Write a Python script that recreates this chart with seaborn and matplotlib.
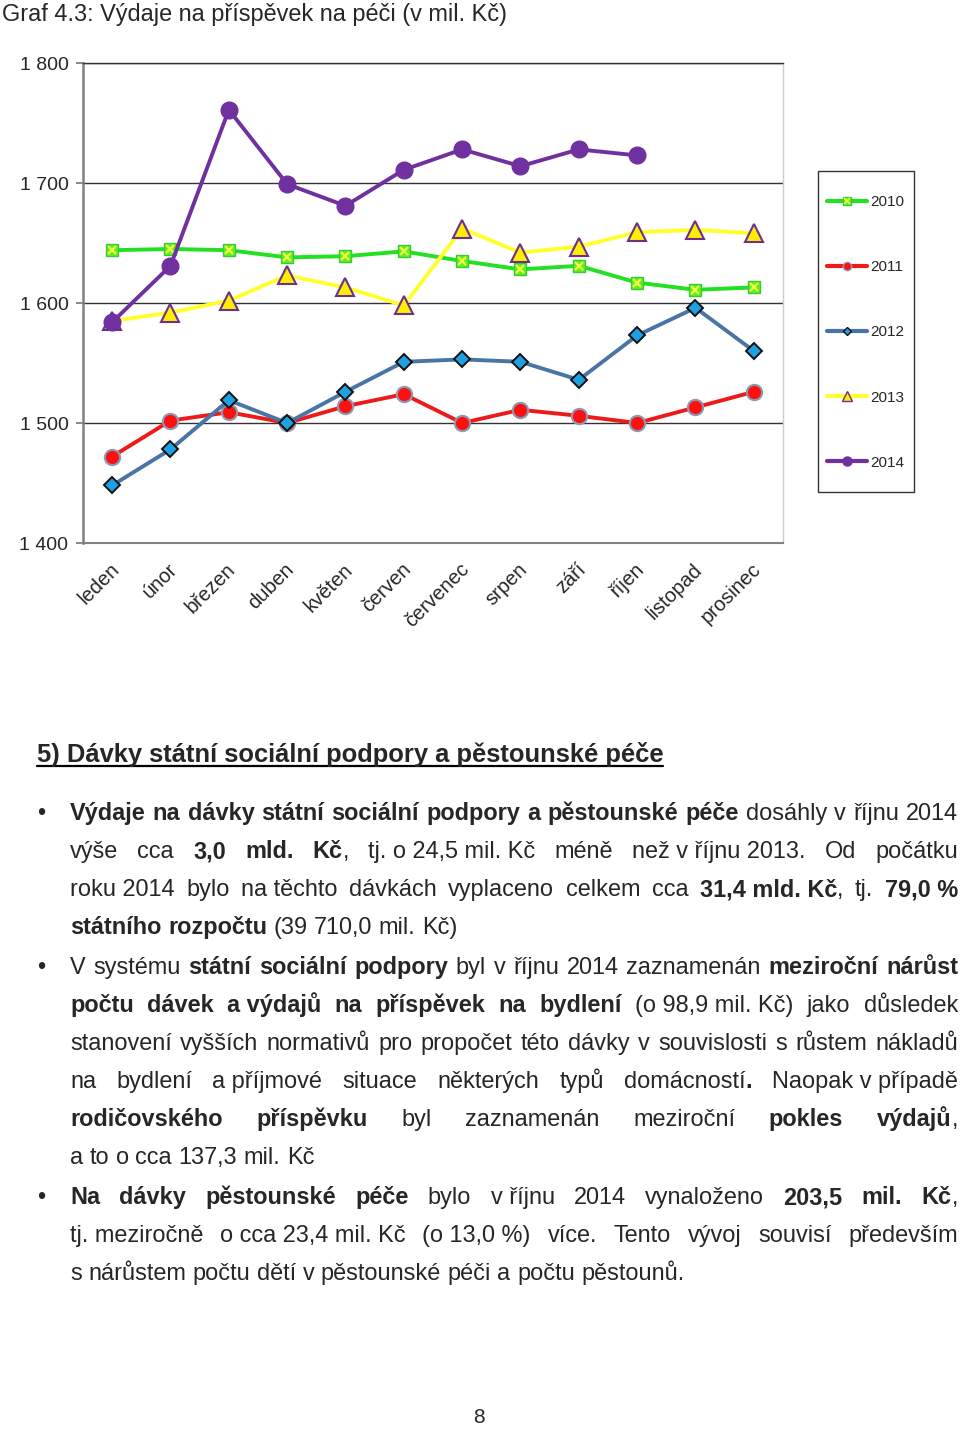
import numpy as np
import pandas as pd
import matplotlib
matplotlib.use("Agg")
import matplotlib.pyplot as plt
import seaborn as sns
from matplotlib.lines import Line2D
from matplotlib.patches import Rectangle
from matplotlib.ticker import FuncFormatter
from matplotlib.transforms import ScaledTranslation

# ---------------- data ----------------
months = ["leden", "únor", "březen", "duben", "květen", "červen",
          "červenec", "srpen", "září", "říjen", "listopad", "prosinec"]
years = ["2010", "2011", "2012", "2013", "2014"]
v2010 = [1644, 1645, 1644, 1638, 1639, 1643, 1635, 1628, 1631, 1617, 1611, 1613]
v2011 = [1472, 1502, 1509, 1500, 1514, 1524, 1500, 1511, 1506, 1500, 1513, 1526]
v2012 = [1448, 1478, 1519, 1500, 1526, 1551, 1553, 1551, 1536, 1573, 1596, 1560]
v2013 = [1585, 1592, 1602, 1623, 1613, 1598, 1662, 1642, 1647, 1659, 1661, 1658]
v2014 = [1584, 1631, 1761, 1699, 1681, 1711, 1728, 1714, 1728, 1723]
y_ticks = [1400, 1500, 1600, 1700, 1800]

title = "Graf 4.3: Výdaje na příspěvek na péči (v mil. Kč)"
heading = "5) Dávky státní sociální podpory a pěstounské péče"
NB = "\u00a0"
body_lines = [
    "*Výdaje na dávky státní sociální podpory a pěstounské péče* dosáhly v říjnu 2014",
    "výše cca *3,0 mld. Kč*, tj." + NB + "o" + NB + "24,5" + NB + "mil." + NB + "Kč méně než" + NB + "v" + NB + "říjnu" + NB + "2013. Od počátku",
    "roku" + NB + "2014 bylo na" + NB + "těchto dávkách vyplaceno celkem cca *31,4" + NB + "mld." + NB + "Kč*, tj. *79,0" + NB + "%*",
    "*státního rozpočtu* (39 710,0 mil. Kč)",
    "V systému *státní sociální podpory* byl v říjnu 2014 zaznamenán *meziroční nárůst*",
    "*počtu dávek a" + NB + "výdajů na příspěvek na bydlení* (o" + NB + "98,9" + NB + "mil." + NB + "Kč) jako důsledek",
    "stanovení vyšších normativů pro propočet této dávky v souvislosti s růstem nákladů",
    "na bydlení a" + NB + "příjmové situace některých typů domácností*.* Naopak" + NB + "v" + NB + "případě",
    "*rodičovského příspěvku* byl zaznamenán meziroční *pokles výdajů*,",
    "a to o cca 137,3 mil. Kč",
    "*Na dávky pěstounské péče* bylo v" + NB + "říjnu 2014 vynaloženo *203,5 mil. Kč*,",
    "tj." + NB + "meziročně o" + NB + "cca" + NB + "23,4" + NB + "mil." + NB + "Kč (o" + NB + "13,0" + NB + "%) více. Tento vývoj souvisí především",
    "s nárůstem počtu dětí v pěstounské péči a počtu pěstounů.",
]
justify = [True, True, True, False, True, True, True, True, True, False, True, True, False]
bullets = [True, False, False, False, True, False, False, False, False, False, True, False, False]
page_number = "8"

# ---------------- layout ----------------
W, H = 960, 1429
sns.set_style("white")
plt.rcParams["font.family"] = ["Liberation Sans", "DejaVu Sans"]
BODY = ["Liberation Sans", "DejaVu Sans"]

fig = plt.figure(figsize=(W / 100, H / 100), dpi=100)
ax = fig.add_axes([83 / W, 1 - 543 / H, 700 / W, 480 / H])

green, red, blue, yellow, purple = "#22e022", "#ee1a1a", "#4a74a5", "#ffff2e", "#7030a0"

frames = []
for yr, vals in zip(years, [v2010, v2011, v2012, v2013, v2014]):
    frames.append(pd.DataFrame({"year": yr, "pos": np.arange(len(vals)), "value": vals}))
df = pd.concat(frames, ignore_index=True)

style = {
    "2010": dict(color=green, marker="s", markersize=9, mfc="#66ee22", mec="#33cc33", mew=1.0),
    "2011": dict(color=red, marker="o", markersize=11, mfc="#ff1010", mec="#8a9bb0", mew=1.5),
    "2012": dict(color=blue, marker="D", markersize=8, mfc="#1fa0e0", mec="#111111", mew=1.4),
    "2013": dict(color=yellow, marker="^", markersize=12.5, mfc="#ffee00", mec="#6b2f8f", mew=1.5),
    "2014": dict(color=purple, marker="o", markersize=12, mfc=purple, mec=purple, mew=1.0),
}
for yr in years:
    d = df[df["year"] == yr]
    sns.lineplot(data=d, x="pos", y="value", ax=ax, lw=2.8, legend=False,
                 errorbar=None, **style[yr])
    if yr == "2010":
        sns.lineplot(data=d, x="pos", y="value", ax=ax, linestyle="none", marker="x",
                     markersize=6, mec="#eeff44", mew=1.6, legend=False, errorbar=None)

ax.set_xlim(-0.5, len(months) - 0.5)
ax.set_ylim(y_ticks[0], y_ticks[-1])
ax.set_yticks(y_ticks)
ax.yaxis.set_major_formatter(FuncFormatter(lambda v, p: f"{int(v):,}".replace(",", " ")))
ax.set_xticks(range(len(months)), labels=months)
ax.set_xticks(np.arange(len(months) + 1) - 0.5, minor=True)
ax.set_xlabel("")
ax.set_ylabel("")
ax.grid(axis="y", color="#333333", lw=1.0)
ax.set_axisbelow(True)

ax.tick_params(axis="x", which="major", length=0, pad=17.0, labelsize=14.5)
ax.tick_params(axis="x", which="minor", length=5, width=1.2, color="#777777", direction="out")
ax.tick_params(axis="y", which="major", length=5, width=1.2, color="#777777", pad=5.5,
               labelsize=14, direction="out", left=True)
shift = ScaledTranslation(4 / 100, 0, fig.dpi_scale_trans)
for lab in ax.get_xticklabels():
    lab.set_rotation(45)
    lab.set_ha("right")
    lab.set_va("center")
    lab.set_rotation_mode("anchor")
    lab.set_transform(lab.get_transform() + shift)

ax.spines["left"].set_color("#808080")
ax.spines["left"].set_linewidth(1.8)
ax.spines["bottom"].set_color("#808080")
ax.spines["bottom"].set_linewidth(1.5)
ax.spines["top"].set_color("#333333")
ax.spines["top"].set_linewidth(1.0)
ax.spines["right"].set_color("#cccccc")
ax.spines["right"].set_linewidth(1.0)

# legend
handles = [
    (Line2D([], [], color=green, lw=3, marker="s", ms=6, mfc="#66ee22", mec="#33cc33"),
     Line2D([], [], ls="none", marker="x", ms=4, mec="#eeff44", mew=1.2)),
    Line2D([], [], color=red, lw=3, marker="o", ms=6, mfc="#ff1010", mec="#8a9bb0"),
    Line2D([], [], color=blue, lw=3, marker="D", ms=4.5, mfc="#1fa0e0", mec="#111111", mew=1),
    Line2D([], [], color=yellow, lw=3, marker="^", ms=7, mfc="#ffee00", mec="#6b2f8f", mew=1),
    Line2D([], [], color=purple, lw=3, marker="o", ms=6.5, mfc=purple, mec=purple),
]
fig.legend(handles, years, loc="upper left", bbox_to_anchor=(827 / W, 1 - 195 / H),
           frameon=False, fontsize=11, handlelength=2.6, handletextpad=0.2,
           labelspacing=3.35, borderpad=0, borderaxespad=0)
fig.add_artist(Rectangle((818 / W, 1 - 492 / H), 96 / W, 321 / H, transform=fig.transFigure,
                         fill=False, ec="#333333", lw=1.0))

# ---------------- text ----------------
R = fig.canvas.get_renderer()


def text_width(s, fs, weight, family):
    t = fig.text(0, 0, s, fontsize=fs, fontweight=weight, family=family)
    w = t.get_window_extent(renderer=R).width
    t.remove()
    return w


def fit_size(s, target, weight, family):
    return 10 * target / text_width(s, 10, weight, family)


fs_title = fit_size(title, 505, "normal", ["Liberation Sans"])
fig.text(2 / W, 1 - 21 / H, title, fontsize=fs_title, ha="left", va="baseline")

fs_head = fit_size(heading, 626, "bold", ["Liberation Sans"])
fig.text(37 / W, 1 - 762 / H, heading, fontsize=fs_head, fontweight="bold", ha="left", va="baseline")
fig.add_artist(Line2D([37 / W, 663 / W], [1 - 766.5 / H, 1 - 766.5 / H], transform=fig.transFigure,
                      color="black", lw=1.6))


def parse_words(line):
    words, bold = [], False
    for raw in line.split(" "):
        runs, buf = [], ""
        for ch in raw:
            if ch == "*":
                if buf:
                    runs.append((buf, bold))
                    buf = ""
                bold = not bold
            else:
                buf += ch
        if buf:
            runs.append((buf, bold))
        if runs:
            words.append(runs)
    return words


def natural_width(line, fs):
    words = parse_words(line)
    sp = text_width("n n", fs, "normal", BODY) - text_width("nn", fs, "normal", BODY)
    tot = sum(text_width(s, fs, "bold" if b else "normal", BODY) for w in words for s, b in w)
    return tot + sp * (len(words) - 1)


fs_body = 10 * 616 / natural_width(body_lines[-1], 10)
space_w = text_width("n n", fs_body, "normal", BODY) - text_width("nn", fs_body, "normal", BODY)

baselines = [820, 858, 896, 934, 974, 1012, 1050, 1088, 1126, 1164, 1204, 1242, 1280]
X0, X1 = 70, 958
for line, jus, bul, yb in zip(body_lines, justify, bullets, baselines):
    words = parse_words(line)
    widths = [[text_width(s, fs_body, "bold" if b else "normal", BODY) for s, b in w] for w in words]
    total = sum(sum(ws) for ws in widths)
    gap = (X1 - X0 - total) / (len(words) - 1) if (jus and len(words) > 1) else space_w
    x = X0
    for w, ws in zip(words, widths):
        for (s, b), rw in zip(w, ws):
            fig.text(x / W, 1 - yb / H, s, fontsize=fs_body, fontweight="bold" if b else "normal",
                     family=BODY, ha="left", va="baseline")
            x += rw
        x += gap
    if bul:
        fig.text(41 / W, 1 - yb / H, "•", fontsize=fs_body, family=BODY, ha="center", va="baseline")

fig.text(479 / W, 1 - 1423 / H, page_number, fontsize=15, ha="center", va="baseline")

fig.savefig("out.png", dpi=100)
